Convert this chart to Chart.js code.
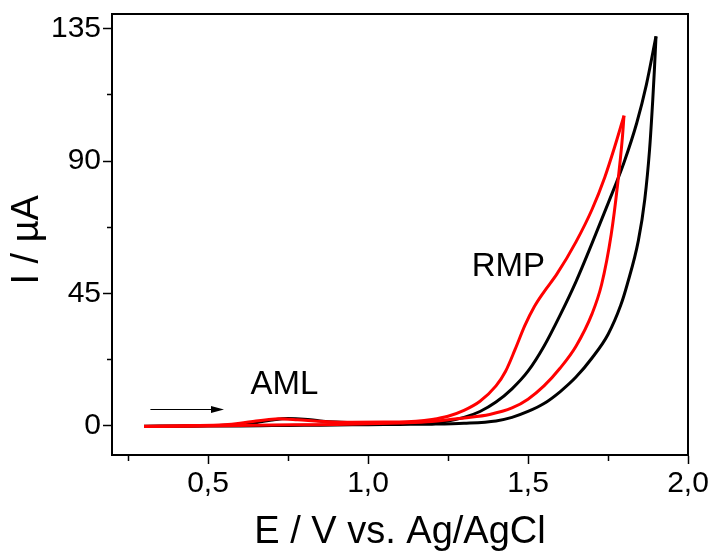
<!DOCTYPE html>
<html><head><meta charset="utf-8">
<script src="https://cdn.jsdelivr.net/npm/chart.js@4.4.0/dist/chart.umd.min.js"></script>
<style>html,body{margin:0;padding:0;background:#fff;}canvas{display:block;}</style>
</head><body>
<canvas id="c" width="712" height="554"></canvas>
<script>
// ---- data (E in V, I in µA) ----
const blackFwdE = [0.30,0.40,0.50,0.55,0.60,0.65,0.70,0.75,0.80,0.85,0.90,1.00,1.10,1.20,1.25,1.30,1.35,1.40,1.45,1.50,1.55,1.60,1.65,1.70,1.75,1.80,1.84,1.87,1.90];
const blackFwdI = [-0.2,-0.1,0.0,0.1,0.4,1.0,1.9,2.4,2.2,1.6,1.2,0.9,0.9,1.1,1.6,2.8,4.8,8.0,12.5,18.5,27.0,37.5,49.0,62.0,75.5,89.5,103.0,116.0,132.4];
const blackRevE = [1.90,1.895,1.89,1.88,1.865,1.845,1.81,1.79,1.75,1.70,1.65,1.60,1.55,1.50,1.45,1.40,1.30,1.20,1.10,1.00,0.90,0.80,0.70,0.60,0.45,0.30];
const blackRevI = [132.4,121,111,94,77,63,48,41,31,23,16.5,11.5,7.5,4.8,2.8,1.6,0.8,0.5,0.4,0.3,0.2,0.1,0.0,-0.1,-0.2,-0.3];
const redFwdE = [0.30,0.45,0.55,0.60,0.65,0.70,0.72,0.78,0.85,0.95,1.05,1.15,1.20,1.25,1.30,1.35,1.40,1.43,1.46,1.49,1.52,1.55,1.59,1.65,1.70,1.74,1.77,1.80];
const redFwdI = [-0.2,0.0,0.3,0.8,1.6,2.2,2.3,2.0,1.5,1.1,1.2,1.5,2.1,3.2,5.2,8.3,13.5,18.5,26.0,34.0,40.5,45.5,51.5,62.5,73.5,84.5,94.5,105.4];
const redRevE = [1.80,1.795,1.78,1.76,1.73,1.70,1.65,1.60,1.55,1.50,1.45,1.38,1.30,1.20,1.10,1.00,0.90,0.80,0.70,0.60,0.45,0.30];
const redRevI = [105.4,98,82,65,48,38,27,19.5,13.5,9,6,3.8,2.6,1.4,0.9,0.6,0.4,0.3,0.2,0.0,-0.2,-0.3];

const xTickValues = [0.25,0.5,0.75,1.0,1.25,1.5,1.75,2.0];
const xTickLabels = ['','0,5','','1,0','','1,5','','2,0'];
const yTickValues = [0,22.5,45,67.5,90,112.5,135];
const yTickLabels = ['0','','45','','90','','135'];

const noteTexts = ['AML','RMP'];
const noteE = [0.633,1.324];
const noteI = [10.9,51];
const arrowE = [0.32,0.55];
const arrowI = 5.5;

const FONT = '"Liberation Sans", Arial, Helvetica, sans-serif';
function pts(E,I){ return E.map((e,i)=>({x:e,y:I[i]})); }

const frameAndNotes = {
  id:'frameAndNotes',
  afterDatasetsDraw(chart){
    const {ctx, chartArea:a} = chart;
    const x = chart.scales.x, y = chart.scales.y;
    ctx.save();
    ctx.strokeStyle='#000'; ctx.lineWidth=2;
    ctx.beginPath(); ctx.moveTo(a.left,a.top); ctx.lineTo(a.right,a.top); ctx.lineTo(a.right,a.bottom); ctx.stroke();
    // arrow
    const x0=x.getPixelForValue(arrowE[0]), x1=x.getPixelForValue(arrowE[1]), yy=Math.round(y.getPixelForValue(arrowI))+0.5;
    ctx.lineWidth=1.2;
    ctx.beginPath(); ctx.moveTo(x0,yy); ctx.lineTo(x1-10,yy); ctx.stroke();
    ctx.fillStyle='#000';
    ctx.beginPath(); ctx.moveTo(x1,yy); ctx.lineTo(x1-13,yy-3.5); ctx.lineTo(x1-13,yy+3.5); ctx.closePath(); ctx.fill();
    // notes
    ctx.font='33px '+FONT; ctx.textAlign='left'; ctx.textBaseline='alphabetic';
    noteTexts.forEach((t,i)=>ctx.fillText(t, x.getPixelForValue(noteE[i]), y.getPixelForValue(noteI[i])));
    ctx.restore();
  }
};

const minorX = c => xTickLabels[c.index]==='' ? [5,100] : [];
const minorY = c => yTickLabels[c.index]==='' ? [0,4,5,100] : [];

new Chart(document.getElementById('c'), {
  type:'scatter',
  data:{datasets:[
    {data:pts(redFwdE,redFwdI), borderColor:'#ff0000'},
    {data:pts(redRevE,redRevI), borderColor:'#ff0000'},
    {data:pts(blackFwdE,blackFwdI), borderColor:'#000000'},
    {data:pts(blackRevE,blackRevI), borderColor:'#000000'}
  ].map(d=>Object.assign(d,{showLine:true, borderWidth:3, pointRadius:0, cubicInterpolationMode:'monotone', fill:false, borderJoinStyle:'round'}))},
  options:{
    responsive:false, animation:false, devicePixelRatio:1,
    layout:{padding:{top:14,right:24,left:0,bottom:0}},
    plugins:{legend:{display:false}, tooltip:{enabled:false}},
    scales:{
      x:{type:'linear', min:0.2, max:2.0,
        afterBuildTicks:s=>{s.ticks=xTickValues.map(v=>({value:v}));},
        afterFit:s=>{s.height=99; s.paddingLeft=0; s.paddingRight=0;},
        ticks:{autoSkip:false, maxRotation:0, padding:5, color:'#000',
          font:{family:FONT,size:30,lineHeight:1},
          callback:(v,i)=>xTickLabels[i]},
        grid:{drawOnChartArea:false, drawTicks:true, tickLength:9, tickColor:'#000', tickWidth:1.5, tickBorderDash:minorX},
        border:{display:true,color:'#000',width:2},
        title:{display:true, text:'E / V vs. Ag/AgCl', color:'#000', font:{family:FONT,size:38,lineHeight:1}, padding:{top:0,bottom:2}}
      },
      y:{type:'linear', min:-10, max:140,
        afterBuildTicks:s=>{s.ticks=yTickValues.map(v=>({value:v}));},
        afterFit:s=>{s.width=112; s.paddingTop=0; s.paddingBottom=0;},
        ticks:{autoSkip:false, padding:2, color:'#000',
          font:{family:FONT,size:30,lineHeight:1},
          callback:(v,i)=>yTickLabels[i]},
        grid:{drawOnChartArea:false, drawTicks:true, tickLength:9, tickColor:'#000', tickWidth:1.5, tickBorderDash:minorY},
        border:{display:true,color:'#000',width:2},
        title:{display:true, text:'I / µA ', color:'#000', font:{family:FONT,size:38,lineHeight:1}, padding:{top:9,bottom:0}}
      }
    }
  },
  plugins:[frameAndNotes]
});
</script>
</body></html>
